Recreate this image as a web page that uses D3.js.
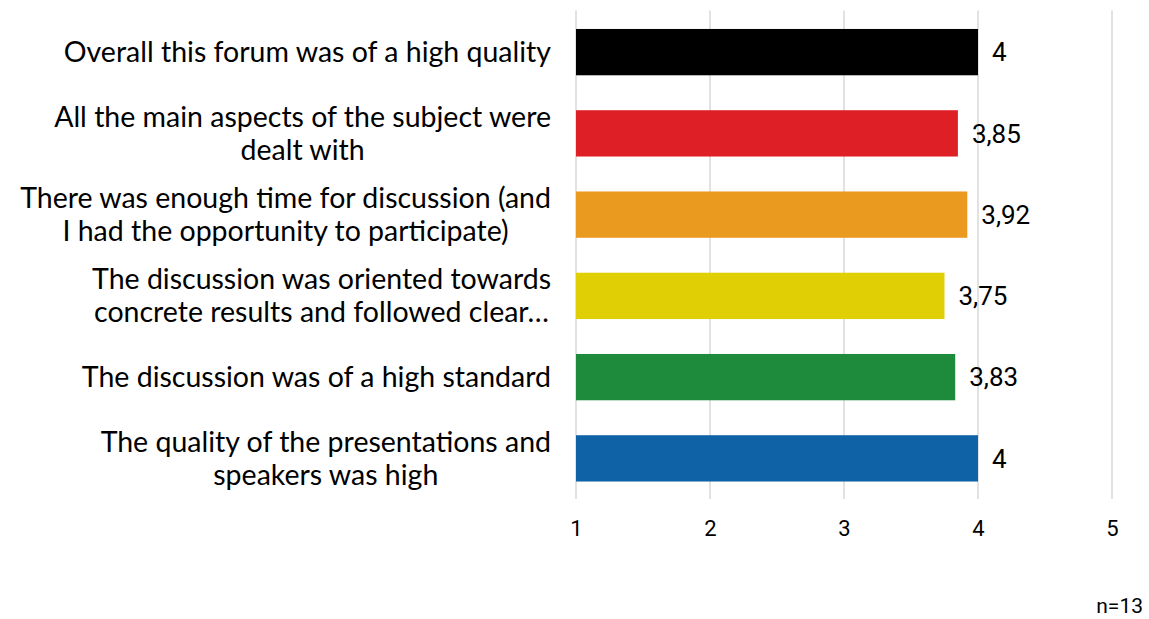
<!DOCTYPE html>
<html>
<head>
<meta charset="utf-8">
<script src="https://cdn.jsdelivr.net/npm/d3@7"></script>
<style>
  body { margin: 0; background: #fff; }
  svg { display: block; }
</style>
</head>
<body>
<div id="chart"></div>
<script>
// data
const categories = [
    "Overall this forum was of a high quality",
    "All the main aspects of the subject were\ndealt with",
    "There was enough time for discussion (and\nI had the opportunity to participate)",
    "The discussion was oriented towards\nconcrete results and followed clear…",
    "The discussion was of a high standard",
    "The quality of the presentations and\nspeakers was high"
];
const values = [4, 3.85, 3.92, 3.75, 3.83, 4];
const barColors = ["#000000", "#DE1F26", "#EB9A20", "#E0CF04", "#1E8A3B", "#0F62A6"];
const xTicks = [1, 2, 3, 4, 5];
const note = "n=13";

const width = 1149,
      height = 619;
const margin = {top: 11.5, right: 37, bottom: 120, left: 576};

let svg = d3.select("#chart")
    .append("svg")
    .attr("width", width)
    .attr("height", height);

let x = d3.scaleLinear()
    .domain([1, 5])
    .range([margin.left, width - margin.right]);

let y = d3.scaleBand()
    .domain(categories)
    .range([margin.top, height - margin.bottom])
    .paddingInner(0.43)
    .paddingOuter(0.215);

// gridlines
svg.append("g")
    .selectAll("line")
    .data(xTicks)
    .join("line")
    .attr("x1", d => x(d))
    .attr("x2", d => x(d))
    .attr("y1", margin.top - 1)
    .attr("y2", height - margin.bottom)
    .attr("stroke", "#d9d9d9")
    .attr("stroke-width", 1.5);

// x axis, no domain line or ticks
let xAxis = svg.append("g")
    .attr("transform", `translate(0,${height - margin.bottom})`)
    .call(d3.axisBottom(x).tickValues(xTicks).tickSize(0).tickPadding(21).tickFormat(d3.format("d")));
xAxis.select(".domain").remove();
xAxis.selectAll("text")
    .attr("font-family", "Roboto, sans-serif")
    .attr("font-size", 22)
    .attr("fill", "#000");

const data = categories.map((c, i) => ({cat: c, value: values[i], color: barColors[i]}));

let bar = svg.selectAll(".bar")
    .data(data)
    .join("g")
    .attr("class", "bar");

bar.append("rect")
    .attr("x", x(1))
    .attr("y", d => y(d.cat))
    .attr("width", d => x(d.value) - x(1))
    .attr("height", y.bandwidth())
    .attr("fill", d => d.color);

bar.append("text")
    .text(d => String(d.value).replace(".", ","))
    .attr("x", d => x(d.value) + 14)
    .attr("y", d => y(d.cat) + y.bandwidth() / 2)
    .attr("dy", "0.36em")
    .attr("font-family", "Roboto, sans-serif")
    .attr("font-size", 26)
    .attr("fill", "#000");

// category labels, lines centred on each other, block ending at the axis
const labelRight = 551,
      lineH = 33;

bar.each(function(d) {
    let lines = d.cat.split("\n");
    let g = d3.select(this).append("text")
        .attr("font-family", "Lato, sans-serif")
        .attr("font-size", 28.5)
        .attr("fill", "#000")
        .attr("text-anchor", "middle");
    let cy = y(d.cat) + y.bandwidth() / 2 - (lines.length - 1) * lineH / 2;
    let spans = lines.map((l, i) => g.append("tspan")
        .text(l)
        .attr("y", cy + i * lineH)
        .attr("dy", "0.35em"));
    let maxW = d3.max(spans, s => s.node().getComputedTextLength());
    spans.forEach(s => s.attr("x", labelRight - maxW / 2));
});

svg.append("text")
    .text(note)
    .attr("x", width - 6)
    .attr("y", 606)
    .attr("dy", "0.35em")
    .attr("text-anchor", "end")
    .attr("font-family", "Roboto, sans-serif")
    .attr("font-size", 21)
    .attr("fill", "#000");
</script>
</body>
</html>
